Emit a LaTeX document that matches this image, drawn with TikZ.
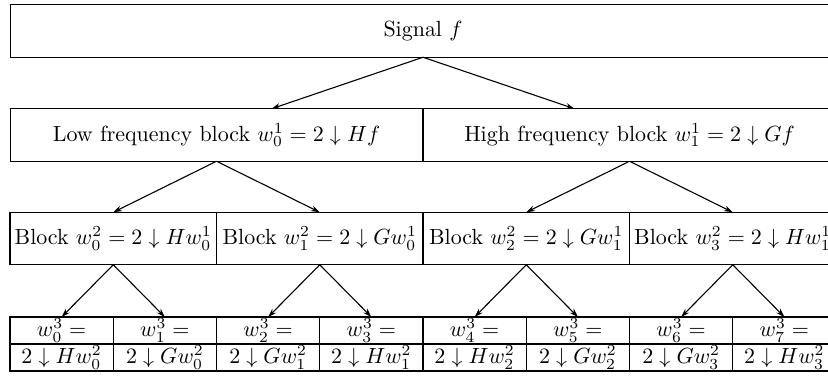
\documentclass[tikz,border=0pt]{standalone}
\usepackage{amsmath,amssymb}
\usepackage{tikz}
\usetikzlibrary{arrows.meta,calc}

\begin{document}
\begin{tikzpicture}[
  x=0.016cm, y=-0.016cm,
  blk/.style  = {draw=black, minimum width=#1, minimum height=0.84cm,
                 inner sep=0pt, outer sep=0pt, line width=0.5pt},
  cell/.style = {draw=black, minimum width=1.652cm, minimum height=0.432cm,
                 inner sep=0pt, outer sep=0pt, line width=0.5pt},
  arr/.style  = {-{Stealth[length=4pt,width=2.6pt]},
                 line width=0.5pt, draw=black},
]
\useasboundingbox (0,0) rectangle (828,376);
\clip (0,0) rectangle (828,376);
% signal
\node[blk=13.216cm] (sig) at (423,31) {Signal $f$};
% first split
\node[blk=6.608cm] (low)  at (216.5,135) {Low frequency block $w_0^1=2\downarrow Hf$};
\node[blk=6.608cm] (high) at (629.5,135) {High frequency block $w_1^1=2\downarrow Gf$};
\draw[arr] (sig.south) -- ($(low.north)+(55,0)$);
\draw[arr] (sig.south) -- ($(high.north)+(-55,0)$);
% second split
\node[blk=3.304cm] (b0) at (113.25,238.5) {Block $w_0^2=2\downarrow Hw_0^1$};
\node[blk=3.304cm] (b1) at (319.75,238.5) {Block $w_1^2=2\downarrow Gw_0^1$};
\node[blk=3.304cm] (b2) at (526.25,238.5) {Block $w_2^2=2\downarrow Gw_1^1$};
\node[blk=3.304cm] (b3) at (732.75,238.5) {Block $w_3^2=2\downarrow Hw_1^1$};
\draw[arr] (low.south)  -- (b0.north);
\draw[arr] (low.south)  -- (b1.north);
\draw[arr] (high.south) -- (b2.north);
\draw[arr] (high.south) -- (b3.north);
% third split
\node[cell] (t0) at (61.625,330.5)  {$w_0^3=$};
\node[cell] (t1) at (164.875,330.5) {$w_1^3=$};
\node[cell] (t2) at (268.125,330.5) {$w_2^3=$};
\node[cell] (t3) at (371.375,330.5) {$w_3^3=$};
\node[cell] (t4) at (474.625,330.5) {$w_4^3=$};
\node[cell] (t5) at (577.875,330.5) {$w_5^3=$};
\node[cell] (t6) at (681.125,330.5) {$w_6^3=$};
\node[cell] (t7) at (784.375,330.5) {$w_7^3=$};
\node[cell] (u0) at (61.625,357.5)  {$2\downarrow Hw_0^2$};
\node[cell] (u1) at (164.875,357.5) {$2\downarrow Gw_0^2$};
\node[cell] (u2) at (268.125,357.5) {$2\downarrow Gw_1^2$};
\node[cell] (u3) at (371.375,357.5) {$2\downarrow Hw_1^2$};
\node[cell] (u4) at (474.625,357.5) {$2\downarrow Hw_2^2$};
\node[cell] (u5) at (577.875,357.5) {$2\downarrow Gw_2^2$};
\node[cell] (u6) at (681.125,357.5) {$2\downarrow Gw_3^2$};
\node[cell] (u7) at (784.375,357.5) {$2\downarrow Hw_3^2$};
\draw[line width=0.9pt] (t0.south west) -- (t7.south east);
\draw[arr] (b0.south) -- (t0.north);
\draw[arr] (b0.south) -- (t1.north);
\draw[arr] (b1.south) -- (t2.north);
\draw[arr] (b1.south) -- (t3.north);
\draw[arr] (b2.south) -- (t4.north);
\draw[arr] (b2.south) -- (t5.north);
\draw[arr] (b3.south) -- (t6.north);
\draw[arr] (b3.south) -- (t7.north);
\end{tikzpicture}
\end{document}
